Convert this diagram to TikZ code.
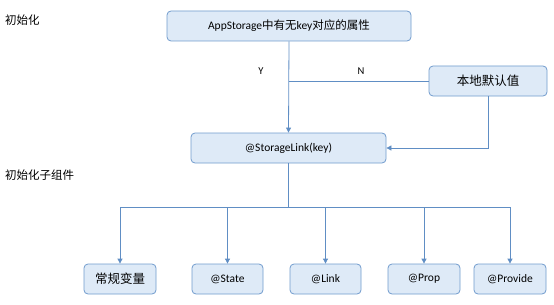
\documentclass[tikz,border=0pt]{standalone}
\usepackage{fontspec}
\setmainfont{Carlito}
\newfontfamily\cjk{Noto Sans CJK SC}
\usetikzlibrary{arrows.meta, positioning}
\definecolor{boxfill}{RGB}{222,234,247}
\definecolor{boxline}{RGB}{112,155,205}
\definecolor{wire}{RGB}{96,142,196}

\begin{document}
\begin{tikzpicture}[
    x=1pt,y=-1pt,
    box/.style={draw=boxline,fill=boxfill,rounded corners=4pt,line width=0.8pt,
      minimum height=30pt,inner sep=2pt,font=\fontsize{11.5}{13}\selectfont},
    wline/.style={wire,line width=0.8pt},
    arrow/.style={wline,-{Triangle[length=5pt,width=5pt]}},
    lbl/.style={font=\fontsize{10.5}{12}\selectfont,inner sep=0pt},
    side/.style={font=\cjk\fontsize{11.5}{13}\selectfont,anchor=west,inner sep=0pt}
  ]
  \useasboundingbox (0,0) rectangle (554,305);

  % Left labels
  \node[side] (init) at (5,20) {初始化};
  \node[side] (initsub) at (5,175) {初始化子组件};

  % Initialization
  \node[box,minimum width=244pt] (query) at (289,26)
    {AppStorage{\cjk\fontsize{11.5}{13}\selectfont 中有无}key{\cjk\fontsize{11.5}{13}\selectfont 对应的属性}};
  \node[box,minimum width=118pt,font=\cjk\fontsize{12.5}{14}\selectfont] (local) at (488,81) {本地默认值};
  \node[box,minimum width=195pt] (link) at (288.5,148) {@StorageLink(key)};
  \coordinate (branch) at (289,81);

  \draw[arrow] (query.south) -- (link.north);
  \draw[wline] (local.west) -- (branch);
  \draw[arrow] (local.south) |- (link.east);
  \node[lbl] (yes) at (261,71) {Y};
  \node[lbl] (no) at (361,71) {N};

  % Child components
  \node[box,minimum width=72pt,font=\cjk\fontsize{12.5}{14}\selectfont] (plain) at (120,279) {常规变量};
  \node[box,minimum width=71pt] (state) at (227.5,279) {@State};
  \node[box,minimum width=71pt] (slink) at (325.5,279) {@Link};
  \node[box,minimum width=72pt] (prop) at (424,279) {@Prop};
  \node[box,minimum width=72pt] (provide) at (510,279) {@Provide};
  \coordinate (bus) at (288.5,207);

  \draw[wline] (link.south) -- (bus);
  \foreach \child in {plain,state,slink,prop,provide}
    \draw[arrow] (bus) -| (\child.north);

\end{tikzpicture}
\end{document}
